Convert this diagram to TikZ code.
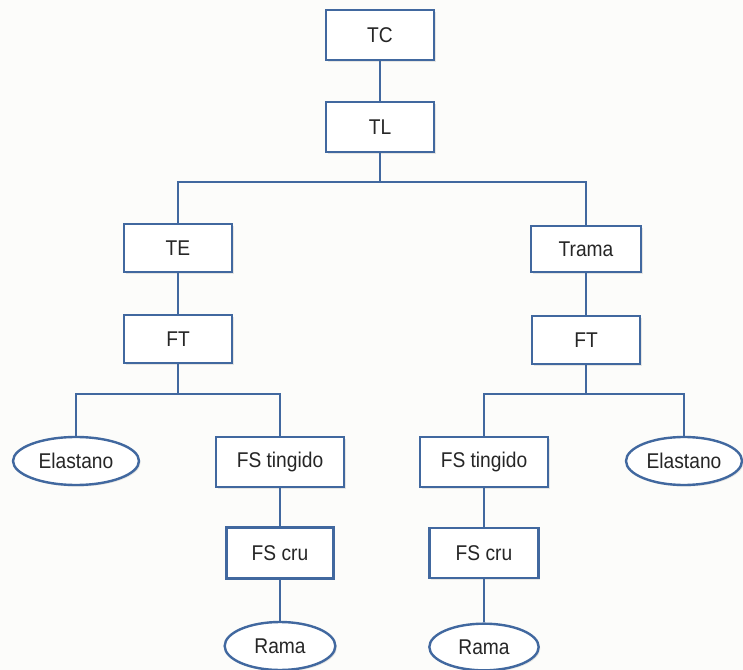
\documentclass[tikz,border=0pt]{standalone}
\usepackage{fontspec}
\setmainfont{Liberation Sans}[FakeStretch=0.9]
\usetikzlibrary{shapes.geometric,shadows}
\definecolor{edge}{HTML}{41689F}
\definecolor{paper}{HTML}{FCFCFA}
\tikzset{
  every node/.style={font=\fontsize{16}{19}\selectfont, inner sep=0pt, text=black!85},
  boxnode/.style={draw=edge, line width=1.8pt, fill=white, rectangle,
    drop shadow={shadow xshift=1.2pt, shadow yshift=-1.2pt, opacity=0.18}},
  ovalnode/.style={draw=edge, line width=1.8pt, fill=white, ellipse,
    drop shadow={shadow xshift=1.2pt, shadow yshift=-1.2pt, opacity=0.18}},
  link/.style={draw=edge, line width=1.8pt}
}
\begin{document}
\begin{tikzpicture}[x=0.75pt, y=-0.75pt]
  \fill[paper] (0,0) rectangle (743,670);
  \useasboundingbox (0,0) rectangle (743,670);

  % junction points of the branching connectors
  \coordinate (jTop) at (380,182);
  \coordinate (jLeft) at (178,394);
  \coordinate (jRight) at (586,394);

  % nodes
  \node[boxnode, minimum width=81pt, minimum height=37.5pt] (tc) at (380,35) {TC};
  \node[boxnode, minimum width=81pt, minimum height=37.5pt] (tl) at (380,127) {TL};
  \node[boxnode, minimum width=81pt, minimum height=36pt] (te) at (178,248) {TE};
  \node[boxnode, minimum width=82.5pt, minimum height=34.5pt] (trama) at (586,249) {Trama};
  \node[boxnode, minimum width=81pt, minimum height=36pt] (ftl) at (178,339) {FT};
  \node[boxnode, minimum width=81pt, minimum height=36pt] (ftr) at (586,340) {FT};
  \node[ovalnode, minimum width=94.5pt, minimum height=36pt] (elal) at (76,461) {Elastano};
  \node[boxnode, minimum width=96pt, minimum height=37.5pt] (fstl) at (280,462) {FS tingido};
  \node[boxnode, minimum width=80pt, minimum height=38pt] (fscl) at (280,553) {FS cru};
  \node[ovalnode, minimum width=83pt, minimum height=36pt] (ramal) at (280,646) {Rama};
  \node[boxnode, minimum width=96pt, minimum height=37.5pt] (fstr) at (484,462) {FS tingido};
  \node[ovalnode, minimum width=87pt, minimum height=36pt] (elar) at (684,461) {Elastano};
  \node[boxnode, minimum width=82pt, minimum height=37.5pt] (fscr) at (484,553) {FS cru};
  \node[ovalnode, minimum width=82pt, minimum height=35pt] (ramar) at (484,647) {Rama};

  % connectors
  \draw[link] (tc) -- (tl);
  \draw[link] (tl) -- (jTop);
  \draw[link] (te.north) -- (te.north |- jTop) -- (trama.north |- jTop) -- (trama.north);
  \draw[link] (te) -- (ftl);
  \draw[link] (trama) -- (ftr);
  \draw[link] (ftl) -- (jLeft);
  \draw[link] (elal.north) -- (elal.north |- jLeft) -- (fstl.north |- jLeft) -- (fstl.north);
  \draw[link] (fstl) -- (fscl);
  \draw[link] (fscl) -- (ramal);
  \draw[link] (ftr) -- (jRight);
  \draw[link] (fstr.north) -- (fstr.north |- jRight) -- (elar.north |- jRight) -- (elar.north);
  \draw[link] (fstr) -- (fscr);
  \draw[link] (fscr) -- (ramar);
\end{tikzpicture}
\end{document}
